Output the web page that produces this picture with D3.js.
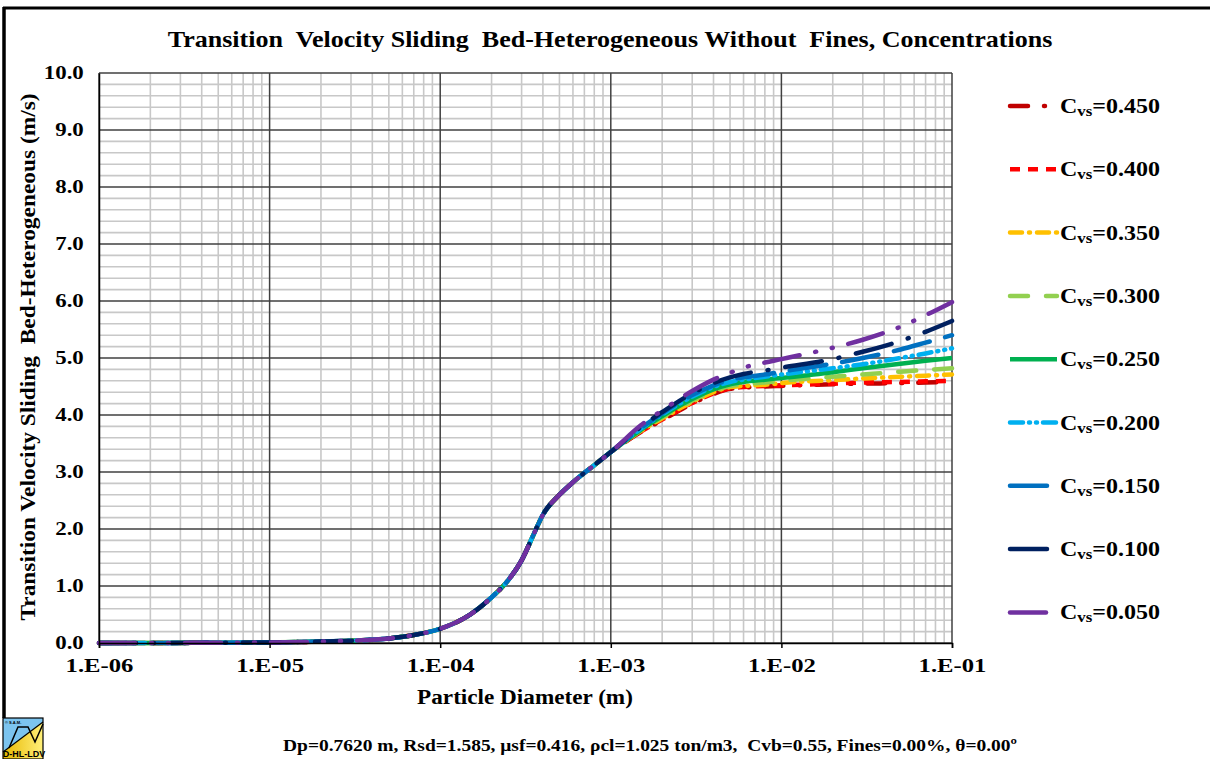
<!DOCTYPE html>
<html><head><meta charset="utf-8">
<script src="https://cdn.jsdelivr.net/npm/d3@7"></script>
<style>
body{margin:0;background:#fff;}
svg text{font-family:"Liberation Serif","Times New Roman",serif;font-weight:bold;fill:#000;white-space:pre;}
</style></head><body>
<svg id="c" width="1210" height="759"></svg>
<script>
// ---- data ----
const dLow = [1e-6,2e-6,5e-6,1e-5,2e-5,3e-5,5e-5,7e-5,1e-4,1.5e-4,2e-4,2.5e-4,3e-4,3.5e-4,4e-4,5e-4,6e-4,8e-4,1e-3];
const vLow = [0.0,0.0,0.005,0.01,0.025,0.04,0.08,0.14,0.25,0.5,0.8,1.1,1.45,1.88,2.25,2.6,2.82,3.12,3.35];
const dHigh = [1.5e-3,2e-3,3e-3,4e-3,5e-3,6e-3,8e-3,1e-2,2e-2,3e-2,5e-2,7e-2,1e-1];
const cvsLabels = ["0.450","0.400","0.350","0.300","0.250","0.200","0.150","0.100","0.050"];
const v450 = [3.70,3.91,4.20,4.37,4.46,4.48,4.50,4.51,4.54,4.55,4.56,4.57,4.58];
const v400 = [3.71,3.92,4.21,4.38,4.47,4.49,4.51,4.52,4.55,4.57,4.58,4.59,4.60];
const v350 = [3.72,3.94,4.23,4.40,4.49,4.51,4.53,4.56,4.61,4.64,4.67,4.69,4.71];
const v300 = [3.73,3.96,4.25,4.42,4.51,4.54,4.57,4.60,4.67,4.71,4.76,4.79,4.82];
const v250 = [3.74,3.98,4.28,4.45,4.54,4.58,4.62,4.65,4.75,4.82,4.90,4.95,5.00];
const v200 = [3.76,4.01,4.32,4.49,4.58,4.62,4.67,4.71,4.82,4.89,5.00,5.08,5.17];
const v150 = [3.77,4.03,4.35,4.52,4.62,4.66,4.71,4.76,4.90,5.00,5.15,5.27,5.40];
const v100 = [3.79,4.05,4.38,4.56,4.66,4.72,4.78,4.83,4.98,5.11,5.30,5.46,5.65];
const v050 = [3.82,4.08,4.42,4.62,4.74,4.83,4.92,4.98,5.18,5.32,5.55,5.75,5.98];
const xTickLabels = ["1.E-06","1.E-05","1.E-04","1.E-03","1.E-02","1.E-01"];
const xTickValues = [1e-6,1e-5,1e-4,1e-3,1e-2,1e-1];

const seriesHigh = [v450,v400,v350,v300,v250,v200,v150,v100,v050];
const colors = ["#C00000","#FF0000","#FFC000","#92D050","#00B050","#00B0F0","#0070C0","#002060","#7030A0"];
const dashes = ["18,16,1,16","10,8","12,7,1,7","18,18",null,"13,6,1,6,1,6","37,16","37,17,1,17","36,16,1,16,1,16"];
const caps = ["round","butt","round","round","butt","round","round","round","round"];

const svg = d3.select("#c");
const L=99,R=952,T=73,B=643;
const x = d3.scaleLog().domain([1e-6,1e-1]).range([L,R]);
const y = d3.scaleLinear().domain([0,10]).range([B,T]);

// outer frame
svg.append("line").attr("x1",4).attr("x2",4).attr("y1",7).attr("y2",718).attr("stroke","#000").attr("stroke-width",3.5);
svg.append("line").attr("x1",3).attr("x2",1210).attr("y1",8).attr("y2",8).attr("stroke","#000").attr("stroke-width",3);

// minor grid
const g = svg.append("g");
const minorX = x.ticks(50).filter(v=>!xTickValues.some(t=>Math.abs(t-v)/t<1e-6));
g.selectAll(".mx").data(minorX).join("line")
  .attr("x1",d=>x(d)).attr("x2",d=>x(d)).attr("y1",T).attr("y2",B)
  .attr("stroke","#c8c8c8").attr("stroke-width",1.6);
const minorY = d3.range(0,51).map(i=>i*0.2).filter(v=>Math.abs(v-Math.round(v))>1e-6);
g.selectAll(".my").data(minorY).join("line")
  .attr("x1",L).attr("x2",R).attr("y1",d=>y(d)).attr("y2",d=>y(d))
  .attr("stroke","#c8c8c8").attr("stroke-width",1.6);
// major grid
g.selectAll(".Mx").data(xTickValues).join("line")
  .attr("x1",d=>x(d)).attr("x2",d=>x(d)).attr("y1",T).attr("y2",B)
  .attr("stroke","#404040").attr("stroke-width",1.5);
g.selectAll(".My").data(d3.range(0,11)).join("line")
  .attr("x1",L).attr("x2",R).attr("y1",d=>y(d)).attr("y2",d=>y(d))
  .attr("stroke","#404040").attr("stroke-width",1.5);

// series
const allD = dLow.concat(dHigh);
const curve = d3.line().x(d=>x(d[0])).y(d=>y(d[1])).curve(d3.curveMonotoneX);
seriesHigh.forEach((vh,i)=>{
  const vals = vLow.concat(vh);
  const pts = allD.map((d,k)=>[d,vals[k]]);
  const p = svg.append("path").attr("d",curve(pts)).attr("fill","none")
    .attr("stroke",colors[i]).attr("stroke-width",4.5).attr("stroke-linecap",caps[i]).attr("stroke-linejoin","round");
  if(dashes[i]) p.attr("stroke-dasharray",dashes[i]);
});

// axes
const xa = svg.append("g").attr("transform",`translate(0,${B})`)
  .call(d3.axisBottom(x).tickValues(xTickValues).tickFormat((d,i)=>xTickLabels[i]).tickSize(5).tickPadding(10));
xa.select(".domain").attr("stroke","#000").attr("stroke-width",1.5);
xa.selectAll(".tick line").attr("stroke","#000").attr("stroke-width",1.5);
xa.selectAll("text").attr("y",0).attr("dy",null)
  .attr("transform","translate(0,29) scale(1.3,1)")
  .style("font-size","19px").style("font-family",'"Liberation Serif",serif').style("font-weight","bold");
const ya = svg.append("g").attr("transform",`translate(${L},0)`)
  .call(d3.axisLeft(y).tickValues(d3.range(0,11)).tickFormat(d3.format(".1f")).tickSize(0).tickPadding(12));
ya.select(".domain").attr("stroke","#000").attr("stroke-width",1.5);
ya.selectAll("text").attr("transform","scale(1.27,1)")
  .style("font-size","18px").style("font-family",'"Liberation Serif",serif').style("font-weight","bold");

// titles (horizontally stretched like the reference)
svg.append("text").attr("transform","translate(610,47) scale(1.085,1)").attr("text-anchor","middle").style("font-size","24px")
  .text("Transition  Velocity Sliding  Bed-Heterogeneous Without  Fines, Concentrations");
svg.append("text").attr("transform","translate(35,357) rotate(-90) scale(1.17,1)").attr("text-anchor","middle").style("font-size","20px")
  .text("Transition Velocity Sliding  Bed-Heterogeneous (m/s)");
svg.append("text").attr("transform","translate(525,704) scale(1.16,1)").attr("text-anchor","middle").style("font-size","20px")
  .text("Particle Diameter (m)");
svg.append("text").attr("transform","translate(650,751) scale(1.145,1)").attr("text-anchor","middle").style("font-size","17px")
  .text("Dp=0.7620 m, Rsd=1.585, μsf=0.416, ρcl=1.025 ton/m3,  Cvb=0.55, Fines=0.00%, θ=0.00º");

// legend
const lg = svg.append("g");
cvsLabels.forEach((lab,i)=>{
  const yy = 106 + i*63.3;
  const l = lg.append("line").attr("x1",1010).attr("x2",1057).attr("y1",yy).attr("y2",yy)
    .attr("stroke",colors[i]).attr("stroke-width",4.5).attr("stroke-linecap",caps[i]);
  if(dashes[i]) l.attr("stroke-dasharray",dashes[i]);
  const t = lg.append("text").attr("transform",`translate(1060,${yy+7}) scale(1.2,1)`).style("font-size","20px");
  t.append("tspan").text("C");
  t.append("tspan").style("font-size","14px").attr("dy",3).text("vs");
  t.append("tspan").attr("dy",-3).text("="+lab);
});

// logo
const lo = svg.append("g").attr("transform","translate(3,718)");
const grad = svg.append("defs").append("linearGradient").attr("id","yg").attr("x1","0").attr("x2","1").attr("y1","0").attr("y2","0");
grad.append("stop").attr("offset","0").attr("stop-color","#e8b800");
grad.append("stop").attr("offset","1").attr("stop-color","#fff07a");
lo.append("rect").attr("width",40).attr("height",41).attr("fill","url(#yg)");
lo.append("path").attr("d","M0,0 L40,0 L40,4 L0,34 Z").attr("fill","#7cc4ef");
lo.append("path").attr("d","M0,34 L40,4").attr("stroke","#000").attr("stroke-width",1.2);
lo.append("path").attr("d","M6,30 L15,9 L25,9 L32,24 L40,6").attr("stroke","#000").attr("stroke-width",1.5).attr("fill","none");
lo.append("rect").attr("width",40).attr("height",41).attr("fill","none").attr("stroke","#000").attr("stroke-width",1.2);
lo.append("text").attr("x",2).attr("y",6).style("font-size","4px").style("font-family","Arial,sans-serif").text("© S.A.M.");
lo.append("text").attr("x",21).attr("y",39).attr("text-anchor","middle").style("font-size","9px").style("font-family","Liberation Sans,Arial,sans-serif").text("D-HL-LDV");
</script></body></html>
